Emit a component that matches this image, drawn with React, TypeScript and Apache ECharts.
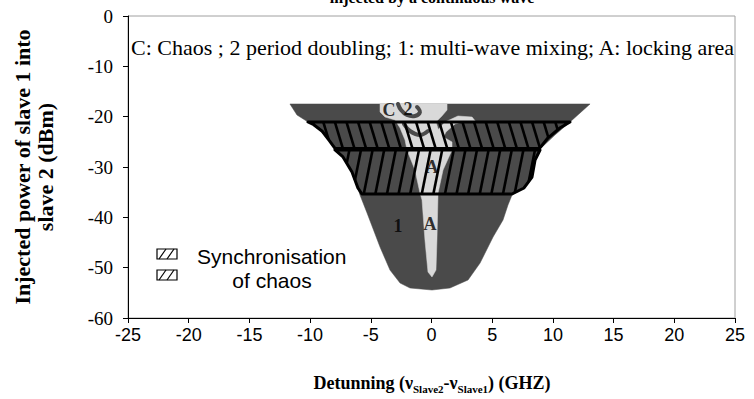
import React, { useEffect, useRef } from 'react';
import * as echarts from 'echarts';

// ---- axes ----
const X_MIN = -25;
const X_MAX = 25;
const X_INTERVAL = 5;
const Y_MIN = -60;
const Y_MAX = 0;
const Y_INTERVAL = 10;

// ---- texts ----
const titleText = 'injected by a continuous wave';
const annotationText = 'C: Chaos ; 2 period doubling; 1: multi-wave mixing; A: locking area';
const yTitleLines = ['Injected power of slave 1 into', 'slave 2 (dBm)'];
const legendLines = ['Synchronisation', 'of chaos'];

type Pt = [number, number];

// ---- regions (detuning GHz, injected power dBm) ----
const darkRegion: Pt[] = [
  [-11.66, -17.48], [13.06, -17.48], [11.41, -21.06], [10.17, -23.64], [8.94, -26.43],
  [8.53, -28.61], [8.28, -31.99], [7.62, -34.17], [6.63, -35.57], [6.3, -37.55],
  [5.89, -40.53], [5.07, -43.91], [4.0, -49.08], [3.01, -52.45], [1.52, -54.04],
  [0.04, -54.44], [-1.77, -54.04], [-2.59, -53.05], [-3.42, -50.47], [-4.24, -45.9],
  [-5.31, -39.13], [-5.89, -35.57], [-6.14, -33.58], [-6.55, -31.0], [-7.29, -28.01],
  [-7.95, -26.43], [-8.61, -24.24], [-9.35, -22.25], [-10.17, -21.06], [-11.08, -19.67],
];

const lightRegion: Pt[] = [
  [-4.24, -17.48], [1.28, -17.48], [1.28, -18.68], [0.86, -19.87], [0.37, -21.06],
  [0.7, -23.64], [1.69, -25.03], [1.69, -26.62], [0.95, -30.6], [0.54, -35.17],
  [0.45, -44.51], [0.37, -50.47], [0.04, -51.86], [-0.29, -50.86], [-0.54, -44.51],
  [-0.78, -36.56], [-0.95, -35.17], [-1.36, -30.6], [-2.02, -26.62], [-2.18, -24.64],
  [-2.59, -22.25], [-3.01, -20.66], [-3.83, -20.07], [-4.24, -19.07],
];

const lightBranch: Pt[] = [
  [0.37, -23.05], [1.11, -21.06], [2.18, -19.87], [3.34, -20.07], [3.67, -21.06],
  [2.84, -20.86], [1.94, -21.46], [1.19, -23.05], [0.86, -24.64],
];

const swirlA: Pt[] = [[-2.76, -17.48], [-2.51, -18.68], [-2.02, -19.67], [-1.36, -19.87], [-0.95, -19.07], [-1.19, -18.08]];
const swirlB: Pt[] = [[-2.27, -21.46], [-1.77, -22.85], [-0.95, -23.64], [-0.29, -22.85]];

const syncBand1: Pt[] = [
  [-10.17, -21.06], [11.41, -21.06], [10.6, -22.2], [9.6, -24.2], [8.9, -26.3],
  [-7.95, -26.3], [-8.4, -24.8], [-9.0, -22.9], [-9.7, -21.6],
];
const syncBand2: Pt[] = [
  [-7.95, -26.62], [8.94, -26.62], [8.53, -28.61], [8.28, -31.99], [7.62, -34.17],
  [6.63, -35.37], [-5.73, -35.37], [-6.06, -34.17], [-6.55, -31.0], [-7.29, -28.01],
];

const regionLabelNames = ['C', '2', 'A', '1', 'A'];
const regionLabelX = [-3.5, -1.94, 0.04, -2.76, -0.12];
const regionLabelY = [-18.68, -18.48, -30.0, -41.72, -41.33];

// ---- helpers ----
function hatch(pts: number[][], slope: number, spacing: number) {
  const xs = pts.map((p) => p[0]);
  const ys = pts.map((p) => p[1]);
  const minX = Math.min(...xs), maxX = Math.max(...xs);
  const minY = Math.min(...ys), maxY = Math.max(...ys);
  const extra = Math.abs(slope) * (maxY - minY) + spacing;
  const D = [slope, 1];
  const out: number[][][] = [];
  const n = pts.length;
  for (let x0 = minX - extra; x0 <= maxX + extra; x0 += spacing) {
    const ts: number[] = [];
    for (let i = 0; i < n; i++) {
      const A = pts[i], B = pts[(i + 1) % n];
      const E = [B[0] - A[0], B[1] - A[1]];
      const den = D[0] * E[1] - D[1] * E[0];
      if (Math.abs(den) < 1e-9) continue;
      const AP = [A[0] - x0, A[1] - minY];
      const t = (AP[0] * E[1] - AP[1] * E[0]) / den;
      const s = (AP[0] * D[1] - AP[1] * D[0]) / den;
      if (s >= 0 && s < 1) ts.push(t);
    }
    ts.sort((a, b) => a - b);
    for (let k = 0; k + 1 < ts.length; k += 2) {
      out.push([
        [x0 + D[0] * ts[k], minY + D[1] * ts[k]],
        [x0 + D[0] * ts[k + 1], minY + D[1] * ts[k + 1]],
      ]);
    }
  }
  return out;
}

function polygonSeries(points: Pt[], fill: string, z: number) {
  return {
    type: 'custom',
    coordinateSystem: 'cartesian2d',
    silent: true,
    z,
    data: [[0, 0]],
    renderItem: (_p: any, api: any) => ({
      type: 'polygon',
      shape: { points: points.map((p) => api.coord(p)) },
      style: { fill, stroke: fill, lineWidth: 0.5 },
    }),
  };
}

function lineSeries(points: Pt[], color: string, width: number, z: number) {
  return {
    type: 'custom',
    coordinateSystem: 'cartesian2d',
    silent: true,
    z,
    data: [[0, 0]],
    renderItem: (_p: any, api: any) => ({
      type: 'polyline',
      shape: { points: points.map((p) => api.coord(p)), smooth: 0.4 },
      style: { fill: 'none', stroke: color, lineWidth: width, lineCap: 'round' },
    }),
  };
}

function bandSeries(points: Pt[], slope: number, z: number) {
  return {
    type: 'custom',
    coordinateSystem: 'cartesian2d',
    silent: true,
    z,
    data: [[0, 0]],
    renderItem: (_p: any, api: any) => {
      const px = points.map((p) => api.coord(p));
      const lines = hatch(px, slope, 11.6);
      return {
        type: 'group',
        children: [
          ...lines.map((l) => ({
            type: 'line',
            shape: { x1: l[0][0], y1: l[0][1], x2: l[1][0], y2: l[1][1] },
            style: { stroke: '#000', lineWidth: 2.6 },
          })),
          {
            type: 'polygon',
            shape: { points: px },
            style: { fill: 'none', stroke: '#000', lineWidth: 3, lineJoin: 'round' },
          },
        ],
      };
    },
  };
}

export default function App() {
  const ref = useRef<HTMLDivElement>(null);

  useEffect(() => {
    document.body.style.margin = '0';
    if (!ref.current) return;
    const chart = echarts.init(ref.current, undefined, { renderer: 'svg' });

    const serif = 'Liberation Serif';
    const sans = 'Liberation Sans';

    const legendBox = (y: number) => ({
      type: 'group',
      children: [
        { type: 'rect', shape: { x: 157, y, width: 20, height: 10 }, style: { fill: '#fff', stroke: '#000', lineWidth: 1.2 } },
        { type: 'line', shape: { x1: 159, y1: y + 10, x2: 166, y2: y }, style: { stroke: '#000', lineWidth: 1.2 } },
        { type: 'line', shape: { x1: 167, y1: y + 10, x2: 174, y2: y }, style: { stroke: '#000', lineWidth: 1.2 } },
      ],
    });

    chart.setOption({
      animation: false,
      backgroundColor: '#fff',
      grid: {
        left: 128,
        right: 19,
        top: 16,
        bottom: 81,
        show: true,
        borderColor: '#a0a0a0',
        borderWidth: 1,
      },
      xAxis: {
        type: 'value',
        min: X_MIN,
        max: X_MAX,
        interval: X_INTERVAL,
        axisLine: { show: true, onZero: false, lineStyle: { color: '#000', width: 1 } },
        axisTick: { show: true, length: 5, lineStyle: { color: '#000' } },
        splitLine: { show: false },
        axisLabel: { color: '#000', fontFamily: sans, fontSize: 18, margin: 8 },
      },
      yAxis: {
        type: 'value',
        min: Y_MIN,
        max: Y_MAX,
        interval: Y_INTERVAL,
        axisLine: { show: true, onZero: false, lineStyle: { color: '#000', width: 1 } },
        axisTick: { show: true, length: 5, lineStyle: { color: '#000' } },
        splitLine: { show: false },
        axisLabel: { color: '#000', fontFamily: serif, fontSize: 19, margin: 15 },
      },
      series: [
        polygonSeries(darkRegion, '#4a4a4a', 1),
        polygonSeries(lightRegion, '#d9d9d9', 2),
        polygonSeries(lightBranch, '#d9d9d9', 2),
        lineSeries(swirlA, '#4a4a4a', 4, 3),
        lineSeries(swirlB, '#4a4a4a', 4, 3),
        bandSeries(syncBand1, 0.3, 5),
        bandSeries(syncBand2, -0.2, 5),
        {
          type: 'scatter',
          z: 6,
          silent: true,
          symbolSize: 0,
          data: regionLabelNames.map((n, i) => ({ name: n, value: [regionLabelX[i], regionLabelY[i]] })),
          label: {
            show: true,
            position: 'inside',
            formatter: '{b}',
            fontFamily: serif,
            fontWeight: 'bold',
            fontSize: 18,
            color: '#000',
          },
        },
      ],
      graphic: [
        {
          type: 'text',
          x: 432,
          y: -3,
          style: { text: titleText, font: `bold 16px ${serif}`, fill: '#000', align: 'center', verticalAlign: 'middle' },
        },
        {
          type: 'text',
          x: 131,
          y: 47,
          style: { text: annotationText, font: `22px ${serif}`, fill: '#000', align: 'left', verticalAlign: 'middle' },
        },
        {
          type: 'text',
          x: 22,
          y: 167,
          rotation: Math.PI / 2,
          style: { text: yTitleLines[0], font: `bold 22px ${serif}`, fill: '#000', align: 'center', verticalAlign: 'middle' },
        },
        {
          type: 'text',
          x: 45,
          y: 167,
          rotation: Math.PI / 2,
          style: { text: yTitleLines[1], font: `bold 22px ${serif}`, fill: '#000', align: 'center', verticalAlign: 'middle' },
        },
        {
          type: 'text',
          x: 432,
          y: 383,
          style: {
            text: '{a|Detunning (}{a|ν}{s|Slave2}{a|-ν}{s|Slave1}{a|) (GHZ)}',
            align: 'center',
            verticalAlign: 'middle',
            rich: {
              a: { fontFamily: serif, fontWeight: 'bold', fontSize: 18, lineHeight: 22, fill: '#000', color: '#000', verticalAlign: 'middle' },
              s: { fontFamily: serif, fontWeight: 'bold', fontSize: 11, lineHeight: 12, fill: '#000', color: '#000', verticalAlign: 'bottom' },
            },
          },
        },
        legendBox(249),
        legendBox(270),
        {
          type: 'text',
          x: 197,
          y: 256,
          style: { text: legendLines[0], font: `21px ${sans}`, fill: '#000', align: 'left', verticalAlign: 'middle' },
        },
        {
          type: 'text',
          x: 272,
          y: 280,
          style: { text: legendLines[1], font: `21px ${sans}`, fill: '#000', align: 'center', verticalAlign: 'middle' },
        },
      ],
    });

    return () => chart.dispose();
  }, []);

  return <div ref={ref} style={{ width: 754, height: 399, position: 'absolute', left: 0, top: 0 }} />;
}
